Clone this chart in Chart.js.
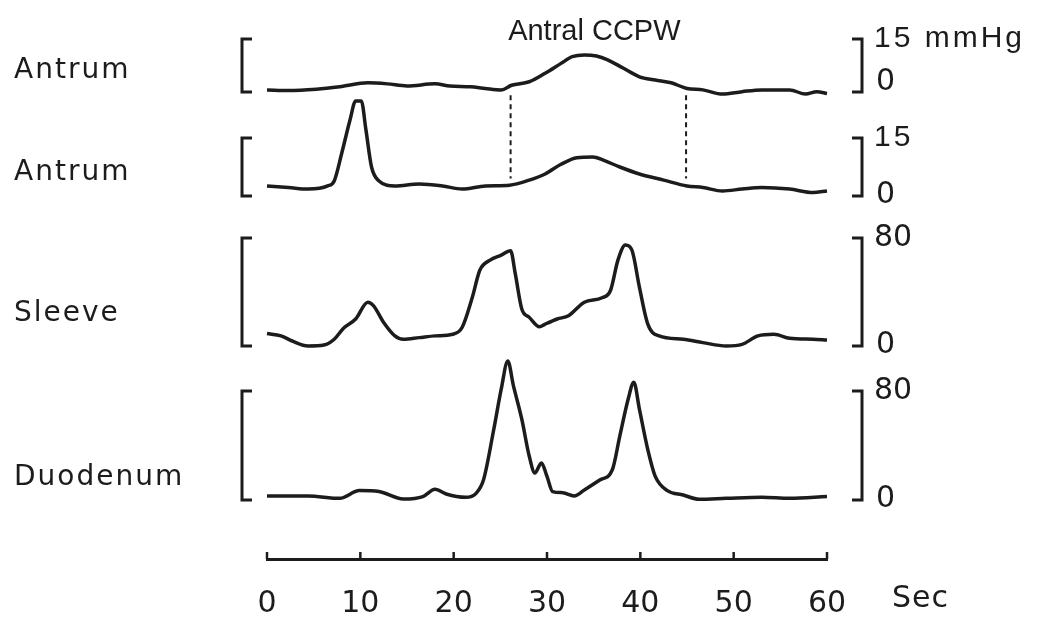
<!DOCTYPE html>
<html>
<head>
<meta charset="utf-8">
<script src="https://cdn.jsdelivr.net/npm/chart.js@4"></script>
<style>
  html, body { margin: 0; padding: 0; background: #fff; }
  #wrap { width: 1040px; height: 618px; }
</style>
</head>
<body>
<div id="wrap"><canvas id="trace"></canvas></div>
<script>
// channel names, full-scale pressure (mmHg) and the label at the top of each scale bar
const channels = ['Antrum', 'Antrum', 'Sleeve', 'Duodenum'];
const fullScale = [15, 15, 80, 80];
const fullLabels = ['15 mmHg', '15', '80', '80'];

// onset / end of the antral contraction (s)
const ccpwWindow = [26.1, 44.9];

// proximal antrum
const antrumUpperT = [0, 2.3, 5.3, 7.8, 10.8, 12.9, 15, 18, 19.6, 21.8, 23.4, 25.1, 26.2, 28.1, 29.8, 31.5, 32.7, 34, 35.3, 36.5, 38.2, 39.9, 41.6, 43.3, 45, 46.7, 48.8, 50.9, 53, 56, 57.7, 58.9, 60];
const antrumUpperP = [0.6, 0.4, 0.8, 1.5, 2.6, 2.3, 1.7, 2.3, 1.7, 1.5, 1.0, 0.6, 1.9, 2.9, 5.3, 8.1, 10.0, 10.5, 10.2, 9.1, 6.7, 4.3, 3.4, 2.6, 1.0, 0.6, -0.6, 0.1, 0.6, 0.6, -0.6, 0.1, -0.4];

// distal antrum
const antrumLowerT = [0, 2.3, 4.4, 6.5, 7.2, 8.0, 8.9, 9.5, 10.1, 10.6, 11.2, 12.0, 13.7, 16.3, 18.8, 20.9, 23.4, 26.0, 28.1, 29.8, 31.5, 33.2, 34.9, 36.1, 37.8, 39.9, 42.5, 45, 46.7, 48.8, 50.9, 53, 56, 58.5, 60];
const antrumLowerP = [2.6, 2.2, 1.8, 2.6, 3.9, 11.0, 19.7, 24.6, 24.6, 17.1, 7.5, 3.9, 2.6, 3.1, 2.6, 1.8, 2.6, 2.8, 4.1, 5.7, 8.2, 9.9, 10.1, 9.2, 7.5, 5.7, 4.1, 2.6, 2.2, 1.3, 1.8, 2.2, 1.8, 0.9, 1.3];

// pyloric sleeve
const sleeveT = [0, 1.5, 2.7, 4.4, 6.1, 7.2, 8.2, 9.5, 10.8, 11.4, 12.5, 13.7, 14.6, 16.3, 18, 19.9, 20.9, 22, 22.8, 23.9, 25.1, 26.1, 26.6, 27.3, 28.1, 29.2, 29.8, 31.1, 32.3, 34, 35.9, 36.8, 37.6, 38.4, 39.1, 39.9, 40.8, 42, 44.6, 46.7, 49.2, 50.9, 52.6, 54.3, 56, 58.5, 60];
const sleeveP = [9.2, 7.5, 3.7, 0, 0.7, 5.0, 13.2, 20.0, 32.4, 29.9, 17.4, 7.5, 5.0, 6.2, 7.5, 8.7, 13.7, 36.1, 56.1, 63.6, 67.3, 70.5, 53.6, 27.4, 21.2, 14.2, 16.2, 20.0, 22.4, 32.4, 35.7, 41.1, 63.6, 74.8, 71.0, 43.6, 16.2, 7.5, 5.0, 2.5, 0, 1.2, 7.5, 8.7, 5.7, 5.0, 4.5];

// duodenum
const duodenumT = [0, 4.4, 7.8, 9.9, 12, 14.6, 16.7, 18, 19.2, 21.3, 22.4, 23.2, 24.3, 25.1, 25.8, 26.4, 27.3, 28.1, 28.7, 29.4, 30, 30.6, 31.7, 32.9, 34, 35.7, 37, 37.8, 38.7, 39.3, 39.9, 40.8, 41.6, 42.9, 44.6, 46.3, 49.2, 53, 56, 60];
const duodenumP = [3.0, 3.0, 1.2, 6.9, 6.2, 0.7, 2.5, 7.9, 4.4, 2.0, 4.9, 14.8, 51.9, 81.5, 102, 83.9, 59.3, 32.1, 19.8, 27.2, 17.3, 6.2, 5.4, 3.0, 7.4, 14.8, 22.2, 46.9, 74.1, 86.5, 66.7, 37.0, 17.3, 6.9, 3.7, 0.5, 1.2, 2.0, 1.2, 2.5];

const traceT = [antrumUpperT, antrumLowerT, sleeveT, duodenumT];
const traceP = [antrumUpperP, antrumLowerP, sleeveP, duodenumP];

// vertical placement of each channel: pixel row of 0 and of full scale
const BAND_PX = [[92, 39], [196, 138], [346, 238], [500, 391]];
const yIds = ['y0', 'y1', 'y2', 'y3'];
const INK = '#1c1c1c';

// each channel gets its own hidden y scale, stretched so that its
// 0..full range lands on its strip of the page
const fitBands = {
  id: 'fitBands',
  afterLayout(chart) {
    yIds.forEach((id, i) => {
      const s = chart.scales[id];
      const [zero, top] = BAND_PX[i];
      const perUnit = (zero - top) / fullScale[i];
      s.min = -(s.bottom - zero) / perUnit;
      s.max = (zero - s.top) / perUnit;
      s.configure();
    });
  }
};

const decorations = {
  id: 'decorations',
  afterDatasetsDraw(chart) {
    const { ctx, chartArea, scales } = chart;
    const xs = scales.x;
    ctx.save();
    ctx.strokeStyle = INK;
    ctx.fillStyle = INK;
    ctx.lineWidth = 3;
    ctx.lineCap = 'butt';

    // scale bars either side of every channel
    const leftX = chartArea.left - 25, rightX = chartArea.right + 35, serif = 10;
    yIds.forEach((id, i) => {
      const s = scales[id];
      const y0 = s.getPixelForValue(0), yF = s.getPixelForValue(fullScale[i]);
      ctx.beginPath();
      ctx.moveTo(leftX + serif, yF); ctx.lineTo(leftX, yF);
      ctx.lineTo(leftX, y0); ctx.lineTo(leftX + serif, y0);
      ctx.moveTo(rightX - serif, yF); ctx.lineTo(rightX, yF);
      ctx.lineTo(rightX, y0); ctx.lineTo(rightX - serif, y0);
      ctx.stroke();

      // full-scale / zero numbers
      ctx.textAlign = 'left';
      ctx.textBaseline = 'middle';
      if (i < 2) {
        ctx.font = '30px "Liberation Sans", Arial, sans-serif';
        ctx.letterSpacing = '3px';
      } else {
        ctx.font = '30px "DejaVu Sans", sans-serif';
        ctx.letterSpacing = '0px';
      }
      ctx.fillText(fullLabels[i], rightX + 12, yF);
      ctx.font = '30px "DejaVu Sans", sans-serif';
      ctx.letterSpacing = '0px';
      ctx.fillText('0', rightX + 14, y0 - (i === 0 ? 10 : 1));

      // channel name
      const frac = [0.4, 0.4, 0.3, 0.2][i];
      ctx.font = '28px "DejaVu Sans", sans-serif';
      ctx.letterSpacing = '2px';
      ctx.fillText(channels[i], 14, y0 - frac * (y0 - yF));
    });
    ctx.letterSpacing = '0px';

    // dashed markers bounding the contraction on both antral channels
    ctx.lineWidth = 2;
    ctx.setLineDash([5, 4]);
    ccpwWindow.forEach(t => {
      const px = xs.getPixelForValue(t);
      ctx.beginPath();
      ctx.moveTo(px, scales.y0.getPixelForValue(-0.9));
      ctx.lineTo(px, scales.y1.getPixelForValue(4.5));
      ctx.stroke();
    });
    ctx.setLineDash([]);

    ctx.font = '29px "Liberation Sans", Arial, sans-serif';
    ctx.textAlign = 'center';
    ctx.textBaseline = 'alphabetic';
    ctx.fillText('Antral CCPW', xs.getPixelForValue((ccpwWindow[0] + ccpwWindow[1]) / 2) - 4, 40);

    // time axis: short upward ticks and unit
    ctx.lineWidth = 2.5;
    xs.ticks.forEach(tk => {
      const px = xs.getPixelForValue(tk.value);
      ctx.beginPath();
      ctx.moveTo(px, chartArea.bottom);
      ctx.lineTo(px, chartArea.bottom - 7);
      ctx.stroke();
    });
    ctx.font = '30px "DejaVu Sans", sans-serif';
    ctx.textAlign = 'left';
    ctx.textBaseline = 'middle';
    ctx.letterSpacing = '1px';
    ctx.fillText('Sec', chartArea.right + 65, chartArea.bottom + 40);
    ctx.restore();
  }
};

const yScales = {};
yIds.forEach(id => { yScales[id] = { type: 'linear', display: false }; });

new Chart(document.getElementById('trace'), {
  type: 'line',
  data: {
    datasets: traceT.map((ts, i) => ({
      label: channels[i],
      data: ts.map((t, k) => ({ x: t, y: traceP[i][k] })),
      yAxisID: yIds[i],
      borderColor: INK,
      borderWidth: 3.5,
      pointRadius: 0,
      cubicInterpolationMode: 'monotone',
      clip: false
    }))
  },
  options: {
    responsive: true,
    maintainAspectRatio: false,
    animation: false,
    layout: { padding: { left: 267, right: 213, top: 10, bottom: 0 } },
    plugins: { legend: { display: false }, tooltip: { enabled: false } },
    scales: Object.assign({
      x: {
        type: 'linear',
        min: 0,
        max: 60,
        afterFit(scale) { scale.height = 59; },
        grid: { display: false, drawTicks: false },
        border: { display: true, color: INK, width: 3 },
        ticks: {
          stepSize: 10,
          padding: 27,
          color: INK,
          font: { family: '"DejaVu Sans", sans-serif', size: 30 }
        }
      }
    }, yScales)
  },
  plugins: [fitBands, decorations]
});
</script>
</body>
</html>
